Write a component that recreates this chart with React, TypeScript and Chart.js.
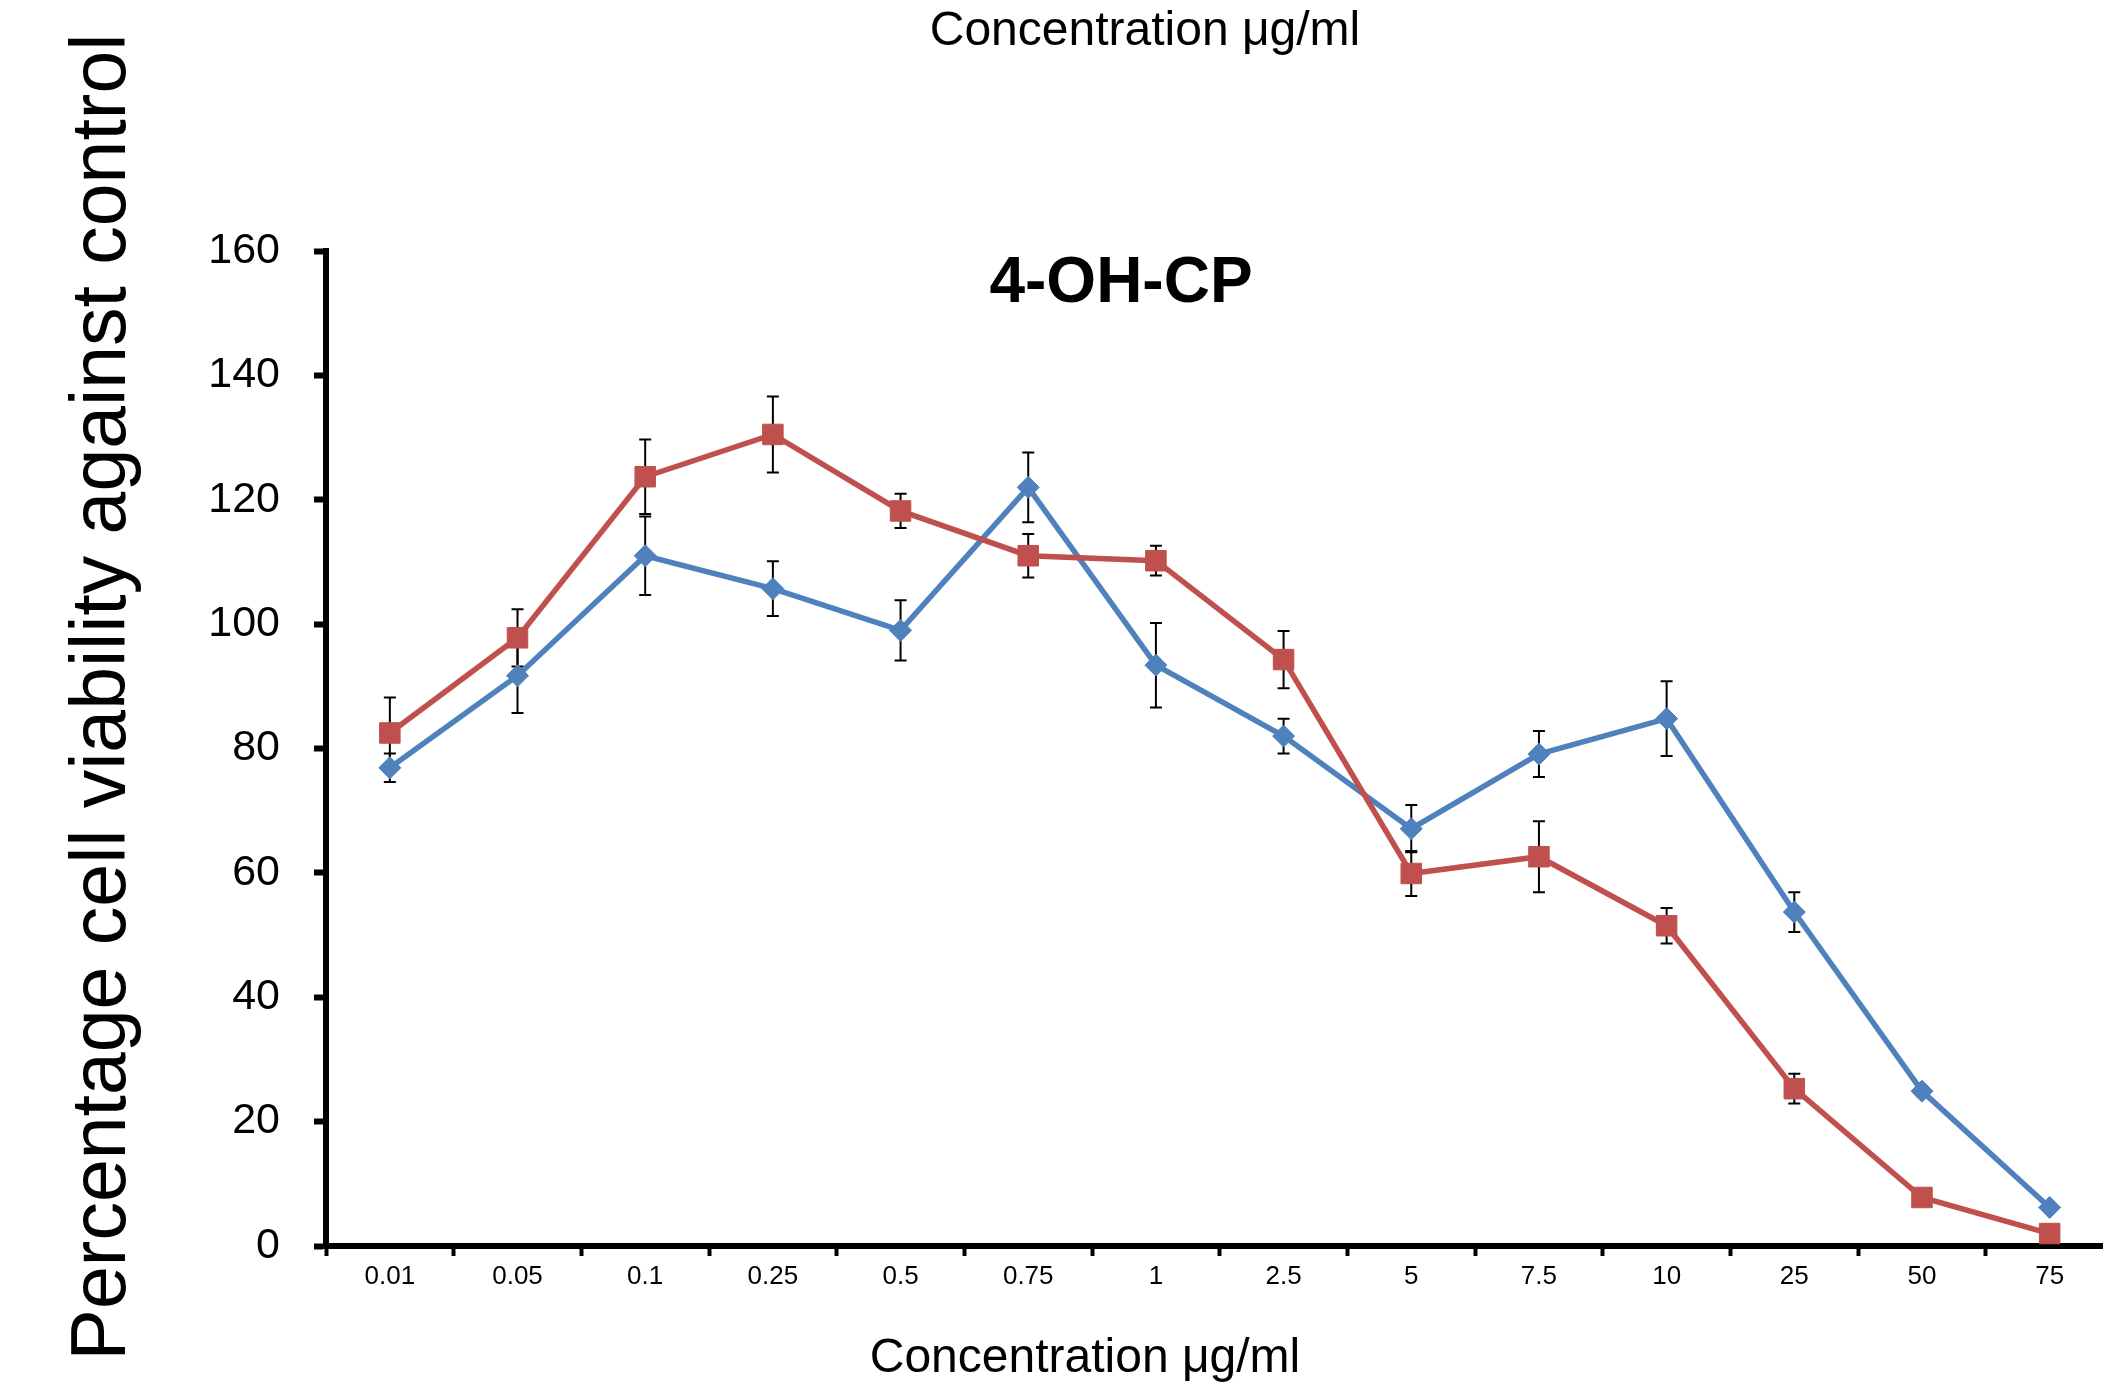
import React, { useEffect, useRef } from 'react';
import { Chart, registerables } from 'chart.js';

Chart.register(...registerables);

const categories = ['0.01', '0.05', '0.1', '0.25', '0.5', '0.75', '1', '2.5', '5', '7.5', '10', '25', '50', '75'];
const blueValues = [76.9, 91.7, 111.0, 105.7, 99.0, 122.0, 93.4, 82.0, 67.1, 79.1, 84.8, 53.7, 24.9, 6.2];
const blueErrors = [2.3, 6.0, 6.3, 4.4, 4.85, 5.6, 6.8, 2.8, 3.8, 3.7, 6.0, 3.2, 0.8, 0.4];
const redValues = [82.5, 97.8, 123.7, 130.5, 118.2, 111.0, 110.2, 94.3, 59.9, 62.6, 51.5, 25.3, 7.8, 2.0];
const redErrors = [5.7, 4.6, 6.0, 6.1, 2.75, 3.5, 2.4, 4.6, 3.6, 5.7, 2.85, 2.4, 0.5, 0.3];

const chartTitle = '4-OH-CP';
const topText = 'Concentration μg/ml';
const xTitle = 'Concentration μg/ml';
const yTitle = 'Percentage cell viability against control';

const FONT = '"Liberation Sans", Arial, Helvetica, sans-serif';
const BLUE = '#4F81BD';
const RED = '#C0504D';

const W = 2129;
const H = 1386;

export default function App() {
  const ref = useRef<HTMLCanvasElement>(null);

  useEffect(() => {
    const canvas = ref.current;
    if (!canvas) return;

    const errorBars = {
      id: 'errorBars',
      beforeDatasetsDraw(chart: any) {
        const ctx = chart.ctx;
        const y = chart.scales.y;
        ctx.save();
        ctx.strokeStyle = '#000';
        ctx.lineWidth = 2;
        chart.data.datasets.forEach((ds: any, i: number) => {
          const meta = chart.getDatasetMeta(i);
          meta.data.forEach((pt: any, j: number) => {
            const v = ds.data[j];
            const e = ds.errors[j];
            if (!e) return;
            const x = pt.x;
            const yT = y.getPixelForValue(v + e);
            const yB = y.getPixelForValue(v - e);
            ctx.beginPath();
            ctx.moveTo(x, yT);
            ctx.lineTo(x, yB);
            ctx.moveTo(x - 6, yT);
            ctx.lineTo(x + 6, yT);
            ctx.moveTo(x - 6, yB);
            ctx.lineTo(x + 6, yB);
            ctx.stroke();
          });
        });
        ctx.restore();
      },
    };

    const texts = {
      id: 'texts',
      afterDraw(chart: any) {
        const ctx = chart.ctx;
        ctx.save();
        ctx.fillStyle = '#000';
        ctx.textBaseline = 'alphabetic';
        ctx.textAlign = 'center';
        ctx.font = `48px ${FONT}`;
        ctx.fillText(topText, 1145, 45);
        ctx.fillText(xTitle, 1085, 1372);
        ctx.font = `bold 64px ${FONT}`;
        ctx.fillText(chartTitle, 1121, 302);
        ctx.translate(125, 697);
        ctx.rotate(-Math.PI / 2);
        ctx.font = `77px ${FONT}`;
        ctx.fillText(yTitle, 0, 0);
        ctx.restore();
      },
    };

    const chart = new Chart(canvas, {
      type: 'line',
      data: {
        labels: categories,
        datasets: [
          {
            label: 'Series 1',
            data: blueValues,
            errors: blueErrors,
            borderColor: BLUE,
            backgroundColor: BLUE,
            borderWidth: 5.5,
            pointStyle: 'rectRot',
            pointRadius: 11,
            pointBorderWidth: 1,
            pointBorderColor: BLUE,
            pointBackgroundColor: BLUE,
            tension: 0,
            order: 1,
          } as any,
          {
            label: 'Series 2',
            data: redValues,
            errors: redErrors,
            borderColor: RED,
            backgroundColor: RED,
            borderWidth: 5.5,
            pointStyle: 'rect',
            pointRadius: 14.5,
            pointBorderWidth: 1,
            pointBorderColor: RED,
            pointBackgroundColor: RED,
            tension: 0,
            order: 0,
          } as any,
        ],
      },
      options: {
        responsive: false,
        animation: false,
        devicePixelRatio: 1,
        layout: { padding: { top: 251, right: 1, left: 0, bottom: 0 } },
        plugins: {
          legend: { display: false },
          tooltip: { enabled: false },
          title: { display: false },
        },
        scales: {
          x: {
            type: 'category',
            offset: true,
            grid: {
              display: true,
              drawOnChartArea: false,
              drawTicks: true,
              tickLength: 10,
              tickWidth: 4,
              tickColor: '#000',
              offset: true,
            },
            border: { display: true, color: '#000', width: 6 },
            ticks: {
              color: '#000',
              font: { family: FONT, size: 26 },
              padding: 5,
              maxRotation: 0,
              autoSkip: false,
            },
            afterFit(scale: any) {
              scale.height = H - 1246;
            },
          },
          y: {
            min: 0,
            max: 160,
            grid: {
              display: true,
              drawOnChartArea: false,
              drawTicks: true,
              tickLength: 12,
              tickWidth: 6,
              tickColor: '#000',
            },
            border: { display: true, color: '#000', width: 6 },
            ticks: {
              stepSize: 20,
              color: '#000',
              font: { family: FONT, size: 43 },
              padding: 34,
            },
            afterFit(scale: any) {
              scale.width = 326;
            },
          },
        },
      } as any,
      plugins: [errorBars, texts],
    });

    return () => {
      chart.destroy();
    };
  }, []);

  return (
    <div
      style={{
        position: 'fixed',
        left: 0,
        top: 0,
        width: 2103,
        height: H,
        overflow: 'hidden',
        background: '#fff',
      }}
    >
      <canvas ref={ref} width={W} height={H} style={{ display: 'block', width: W, height: H }} />
    </div>
  );
}
